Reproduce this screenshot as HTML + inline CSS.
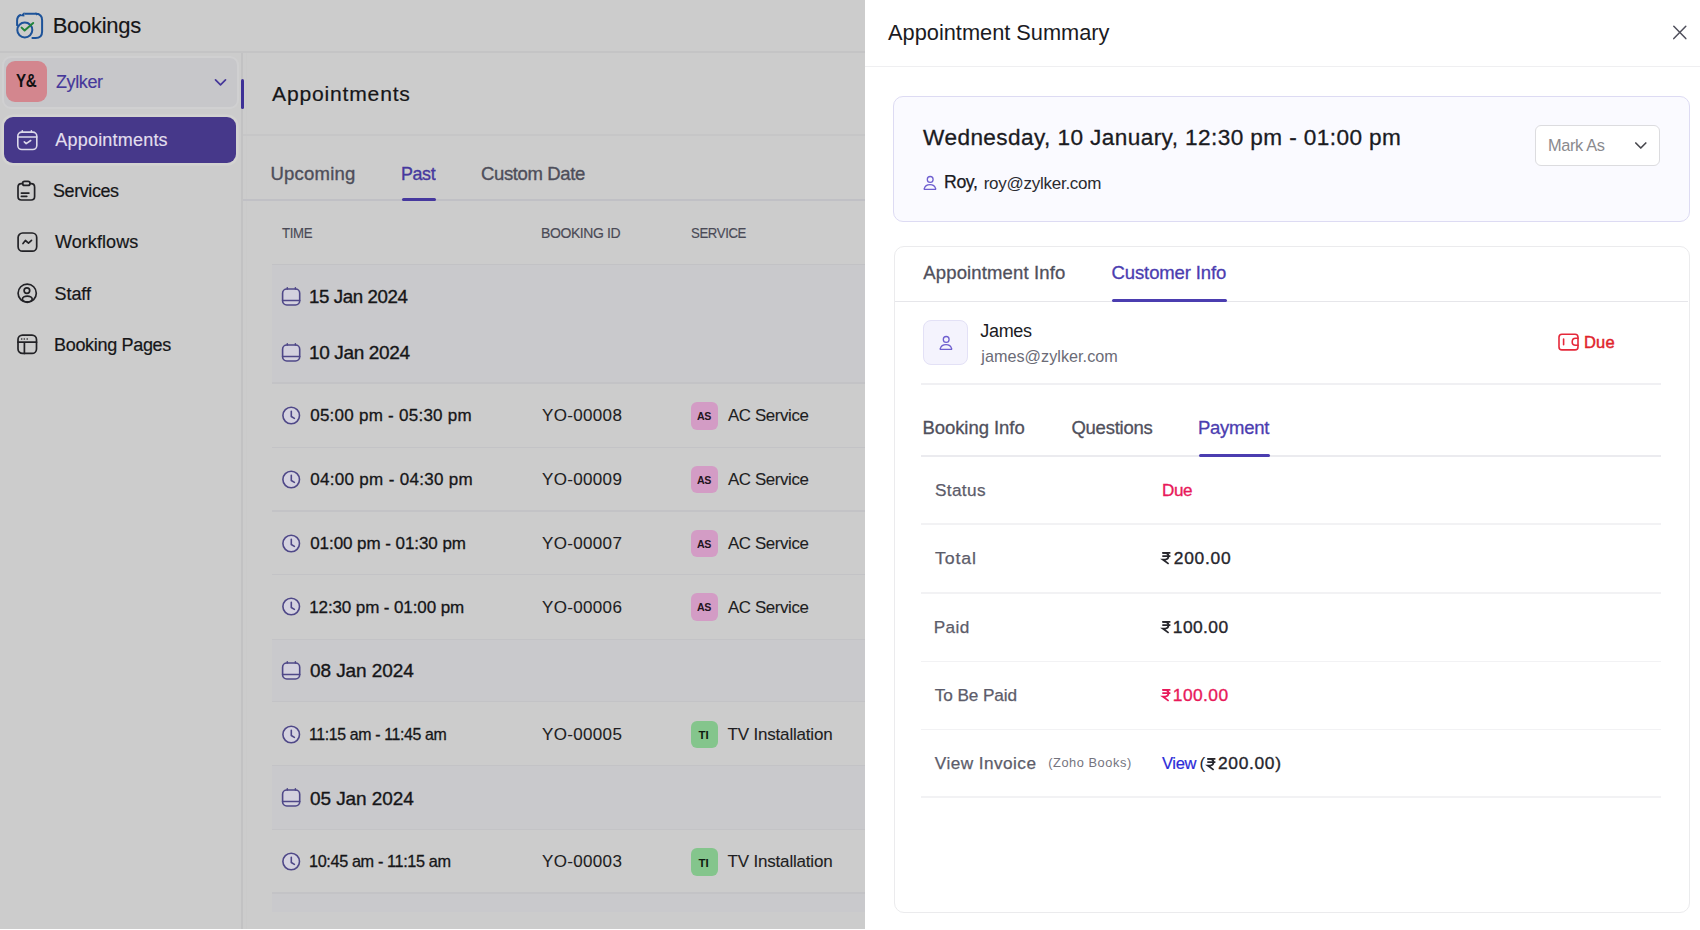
<!DOCTYPE html>
<html><head><meta charset="utf-8">
<style>
*{margin:0;padding:0;box-sizing:border-box}
html,body{width:1700px;height:930px;overflow:hidden;background:#fff;font-family:"Liberation Sans",sans-serif}
.a{position:absolute}
.t{position:absolute;line-height:1;white-space:pre}
.hl{position:absolute;height:1px}
svg{position:absolute;overflow:visible}
</style></head><body>
<!-- left dim area -->
<div class="a" style="left:0;top:0;width:865px;height:929px;background:#cccccc"></div>
<!-- header line -->
<div class="a" style="left:0;top:51px;width:865px;height:2px;background:#c4c4c5"></div>
<!-- sidebar border -->
<div class="a" style="left:241px;top:53px;width:2px;height:876px;background:#c2c2c3"></div>
<div class="a" style="left:246px;top:53px;width:1px;height:876px;background:#cacaca"></div>
<!-- zylker box -->
<div class="a" style="left:1.5px;top:56px;width:237px;height:52.5px;border-radius:9px;background:#c7c7ca;border:2.5px solid #d0d0d1"></div>
<div class="a" style="left:6px;top:61px;width:41px;height:41px;border-radius:9px;background:#d3868e"></div>
<svg style="left:213.5px;top:78px" width="13" height="9" viewBox="0 0 13 9"><path d="M1.5 1.8 L6.5 6.8 L11.5 1.8" fill="none" stroke="#46389a" stroke-width="1.7" stroke-linecap="round" stroke-linejoin="round"/></svg>
<!-- active item -->
<div class="a" style="left:3.5px;top:117px;width:232.5px;height:45.5px;border-radius:9px;background:#46388a;box-shadow:0 0 0 2.5px #d3d3d1"></div>
<!-- purple indicator -->
<div class="a" style="left:241px;top:79px;width:3px;height:30px;border-radius:2px;background:#3d3096"></div>
<!-- main header lines -->
<div class="a" style="left:243px;top:134px;width:622px;height:2px;background:#c6c6c7"></div>
<div class="a" style="left:243px;top:199px;width:622px;height:2px;background:#c0c0c5"></div>
<div class="a" style="left:401.5px;top:198px;width:34px;height:3px;border-radius:2px;background:#46389e"></div>
<!-- table -->
<div class="a" style="left:272px;top:264px;width:593px;height:1px;background:#c2c2c5"></div>
<div class="a" style="left:272px;top:265px;width:593px;height:118px;background:#c9c9cc"></div>
<div class="a" style="left:272px;top:640px;width:593px;height:61px;background:#c9c9cc"></div>
<div class="a" style="left:272px;top:766px;width:593px;height:63px;background:#c9c9cc"></div>
<div class="a" style="left:272px;top:894px;width:593px;height:18px;background:#c9c9cc"></div>
<div class="a" style="left:272px;top:382.45px;width:593px;height:1.5px;background:#c3c3c6"></div>
<div class="a" style="left:272px;top:446.65px;width:593px;height:1.5px;background:#c3c3c6"></div>
<div class="a" style="left:272px;top:510.05px;width:593px;height:1.5px;background:#c3c3c6"></div>
<div class="a" style="left:272px;top:573.85px;width:593px;height:1.5px;background:#c3c3c6"></div>
<div class="a" style="left:272px;top:638.55px;width:593px;height:1.5px;background:#c3c3c6"></div>
<div class="a" style="left:272px;top:700.95px;width:593px;height:1.5px;background:#c3c3c6"></div>
<div class="a" style="left:272px;top:764.75px;width:593px;height:1.5px;background:#c3c3c6"></div>
<div class="a" style="left:272px;top:828.65px;width:593px;height:1.5px;background:#c3c3c6"></div>
<div class="a" style="left:272px;top:892.45px;width:593px;height:1.5px;background:#c3c3c6"></div>
<svg style="left:10px;top:6px" width="40" height="40" viewBox="0 0 40 40"><g fill="none" stroke="#1d5399" stroke-width="2" stroke-linecap="round"><path d="M15.2 7.8 L25.6 7.8 Q32.1 7.8 32.1 14.3 L32.1 25.4 Q32.1 31.9 25.6 31.9 L22.4 31.9"/><path d="M7.1 19.2 L7.1 14.6 Q7.1 10.6 10.4 9"/><circle cx="14.8" cy="24" r="7.5"/></g><path d="M10 10 L14.4 5.9 L14.4 10.4 Z" fill="#1d5399"/><path d="M25.4 6.4 L29.6 7.6 L26.4 9.6 Z" fill="#1d5399"/><path d="M11.6 21.6 L14.6 24.5 L23.2 17" fill="none" stroke="#22843a" stroke-width="2" stroke-linecap="round" stroke-linejoin="round"/></svg>
<svg style="left:12px;top:126px" width="30" height="30" viewBox="0 0 30 30"><g fill="none" stroke="#dcd9ea" stroke-width="1.6" stroke-linecap="round" stroke-linejoin="round"><rect x="5.8" y="6.1" width="19" height="17.4" rx="4"/><path d="M5.8 11 L24.8 11"/><path d="M10.3 4.8 L10.3 6.2 M19.4 4.8 L19.4 6.2"/><path d="M12.3 15.8 L14.2 17.6 L18.7 14.5"/></g></svg>
<svg style="left:12px;top:176px" width="30" height="30" viewBox="0 0 30 30"><g fill="none" stroke="#222226" stroke-width="1.7" stroke-linecap="round" stroke-linejoin="round"><path d="M10.6 7.7 L9.5 7.7 Q6 7.7 6 11.2 L6 20.5 Q6 24 9.5 24 L19.1 24 Q22.6 24 22.6 20.5 L22.6 11.2 Q22.6 7.7 19.1 7.7 L18 7.7"/><rect x="10.6" y="5.3" width="7.4" height="4.1" rx="2"/><path d="M9.4 17.1 L16.9 17.1 M9.4 20.3 L14.8 20.3"/></g></svg>
<svg style="left:12px;top:227px" width="30" height="30" viewBox="0 0 30 30"><g fill="none" stroke="#222226" stroke-width="1.7" stroke-linecap="round" stroke-linejoin="round"><rect x="6.1" y="6" width="18.6" height="18.2" rx="4.5"/><path d="M11 16.5 L13.4 13.5 L16.5 16.1 L19.5 13.4"/></g></svg>
<svg style="left:12px;top:278px" width="30" height="30" viewBox="0 0 30 30"><g fill="none" stroke="#222226" stroke-width="1.7"><circle cx="15.2" cy="15.2" r="9.1"/><circle cx="14.9" cy="12.6" r="2.8"/><ellipse cx="15.3" cy="21" rx="4.9" ry="2.9"/></g></svg>
<svg style="left:12px;top:329px" width="30" height="30" viewBox="0 0 30 30"><g fill="none" stroke="#222226" stroke-width="1.7" stroke-linecap="round"><rect x="6" y="6.1" width="18.5" height="18.3" rx="4.5"/><path d="M6 13.2 L24.5 13.2 M12.4 13.2 L12.4 24.4"/></g><g fill="#222226"><circle cx="9.7" cy="10" r="0.8"/><circle cx="12.3" cy="10" r="0.8"/><circle cx="15.2" cy="10" r="0.8"/></g></svg>
<svg style="left:276px;top:282px" width="30" height="30" viewBox="0 0 30 30"><g fill="none" stroke="#4f4888" stroke-width="1.6" stroke-linecap="round"><rect x="6.6" y="7" width="17.1" height="16" rx="4.2" fill="#d3d1de"/><path d="M6.6 18.5 L23.7 18.5"/><path d="M11.3 5.9 L11.3 7 M19.4 5.9 L19.4 7"/></g></svg>
<svg style="left:276px;top:337.5px" width="30" height="30" viewBox="0 0 30 30"><g fill="none" stroke="#4f4888" stroke-width="1.6" stroke-linecap="round"><rect x="6.6" y="7" width="17.1" height="16" rx="4.2" fill="#d3d1de"/><path d="M6.6 18.5 L23.7 18.5"/><path d="M11.3 5.9 L11.3 7 M19.4 5.9 L19.4 7"/></g></svg>
<svg style="left:276px;top:655.5px" width="30" height="30" viewBox="0 0 30 30"><g fill="none" stroke="#4f4888" stroke-width="1.6" stroke-linecap="round"><rect x="6.6" y="7" width="17.1" height="16" rx="4.2" fill="#d3d1de"/><path d="M6.6 18.5 L23.7 18.5"/><path d="M11.3 5.9 L11.3 7 M19.4 5.9 L19.4 7"/></g></svg>
<svg style="left:276px;top:782.5px" width="30" height="30" viewBox="0 0 30 30"><g fill="none" stroke="#4f4888" stroke-width="1.6" stroke-linecap="round"><rect x="6.6" y="7" width="17.1" height="16" rx="4.2" fill="#d3d1de"/><path d="M6.6 18.5 L23.7 18.5"/><path d="M11.3 5.9 L11.3 7 M19.4 5.9 L19.4 7"/></g></svg>
<svg style="left:276px;top:401.0px" width="30" height="30" viewBox="0 0 30 30"><g fill="none" stroke="#4f4888" stroke-width="1.6" stroke-linecap="round" stroke-linejoin="round"><circle cx="15.2" cy="14.5" r="8.3" fill="#d5d3e0"/><path d="M15.3 10.3 L15.3 15.5 L18.4 17.4"/></g></svg>
<svg style="left:276px;top:464.8px" width="30" height="30" viewBox="0 0 30 30"><g fill="none" stroke="#4f4888" stroke-width="1.6" stroke-linecap="round" stroke-linejoin="round"><circle cx="15.2" cy="14.5" r="8.3" fill="#d5d3e0"/><path d="M15.3 10.3 L15.3 15.5 L18.4 17.4"/></g></svg>
<svg style="left:276px;top:528.5px" width="30" height="30" viewBox="0 0 30 30"><g fill="none" stroke="#4f4888" stroke-width="1.6" stroke-linecap="round" stroke-linejoin="round"><circle cx="15.2" cy="14.5" r="8.3" fill="#d5d3e0"/><path d="M15.3 10.3 L15.3 15.5 L18.4 17.4"/></g></svg>
<svg style="left:276px;top:592.3px" width="30" height="30" viewBox="0 0 30 30"><g fill="none" stroke="#4f4888" stroke-width="1.6" stroke-linecap="round" stroke-linejoin="round"><circle cx="15.2" cy="14.5" r="8.3" fill="#d5d3e0"/><path d="M15.3 10.3 L15.3 15.5 L18.4 17.4"/></g></svg>
<svg style="left:276px;top:719.5px" width="30" height="30" viewBox="0 0 30 30"><g fill="none" stroke="#4f4888" stroke-width="1.6" stroke-linecap="round" stroke-linejoin="round"><circle cx="15.2" cy="14.5" r="8.3" fill="#d5d3e0"/><path d="M15.3 10.3 L15.3 15.5 L18.4 17.4"/></g></svg>
<svg style="left:276px;top:847.0px" width="30" height="30" viewBox="0 0 30 30"><g fill="none" stroke="#4f4888" stroke-width="1.6" stroke-linecap="round" stroke-linejoin="round"><circle cx="15.2" cy="14.5" r="8.3" fill="#d5d3e0"/><path d="M15.3 10.3 L15.3 15.5 L18.4 17.4"/></g></svg>
<div class="a" style="left:690.5px;top:402px;width:27.5px;height:27.5px;border-radius:6px;background:#d39cc5"></div>
<div class="a" style="left:690.5px;top:465.8px;width:27.5px;height:27.5px;border-radius:6px;background:#d39cc5"></div>
<div class="a" style="left:690.5px;top:529.5px;width:27.5px;height:27.5px;border-radius:6px;background:#d39cc5"></div>
<div class="a" style="left:690.5px;top:593.3px;width:27.5px;height:27.5px;border-radius:6px;background:#d39cc5"></div>
<div class="a" style="left:690.5px;top:720.5px;width:27.5px;height:27.5px;border-radius:6px;background:#84c58c"></div>
<div class="a" style="left:690.5px;top:848px;width:27.5px;height:27.5px;border-radius:6px;background:#84c58c"></div>
<!-- right panel -->
<div class="a" style="left:865px;top:65.5px;width:835px;height:1.5px;background:#efeff1"></div>
<svg style="left:1672px;top:25px" width="16" height="16" viewBox="0 0 16 16"><path d="M1.8 1.2 L13.8 13.6 M13.8 1.2 L1.8 13.6" stroke="#50505c" stroke-width="1.5" stroke-linecap="round"/></svg>
<div class="a" style="left:893px;top:95.5px;width:797px;height:126.5px;border-radius:10px;background:#fafaff;border:1.5px solid #dddbf3"></div>
<div class="a" style="left:1535px;top:125px;width:125px;height:41px;border-radius:6px;background:#fff;border:1.5px solid #dcdcdf"></div>
<svg style="left:1634px;top:141px" width="14" height="10" viewBox="0 0 14 10"><path d="M1.8 2 L6.8 7 L11.8 2" fill="none" stroke="#48484e" stroke-width="1.7" stroke-linecap="round" stroke-linejoin="round"/></svg>
<div class="a" style="left:893.5px;top:245.5px;width:796px;height:667.5px;border-radius:10px;background:#fff;border:1.5px solid #ebebed"></div>
<div class="a" style="left:895px;top:300.5px;width:793px;height:1.5px;background:#e6e6ea"></div>
<div class="a" style="left:1111.5px;top:299px;width:115px;height:3px;border-radius:2px;background:#4b3db0"></div>
<div class="a" style="left:923px;top:320px;width:45px;height:45px;border-radius:8px;background:#f4f3fd;border:1.5px solid #e3e1f6"></div>
<div class="a" style="left:921px;top:383px;width:740px;height:1.5px;background:#f0f0f3"></div>
<div class="a" style="left:921px;top:455px;width:740px;height:1.5px;background:#ebebef"></div>
<div class="a" style="left:1199px;top:453.5px;width:70.5px;height:3px;border-radius:2px;background:#4b3db0"></div>
<div class="a" style="left:921px;top:523px;width:740px;height:1.5px;background:#f2f2f4"></div>
<div class="a" style="left:921px;top:592px;width:740px;height:1.5px;background:#f2f2f4"></div>
<div class="a" style="left:921px;top:660.5px;width:740px;height:1.5px;background:#f2f2f4"></div>
<div class="a" style="left:921px;top:728.5px;width:740px;height:1.5px;background:#f2f2f4"></div>
<div class="a" style="left:921px;top:796px;width:740px;height:1.5px;background:#f2f2f4"></div>
<svg style="left:918px;top:170px" width="25" height="25" viewBox="0 0 25 25"><g fill="none" stroke="#6e5ecf" stroke-width="1.3" stroke-linecap="round" transform="scale(1.0)"><circle cx="12.2" cy="9.4" r="2.9"/><path d="M6.6 19.3 L17.3 19.3 Q17.9 19.3 17.6 18.6 Q16.6 14.6 12 14.6 Q7.3 14.6 6.3 18.6 Q6 19.3 6.6 19.3 Z"/></g></svg>
<svg style="left:933.5px;top:330px" width="25" height="25" viewBox="0 0 25 25"><g fill="none" stroke="#6e5ecf" stroke-width="1.3" stroke-linecap="round" transform="scale(1.0)"><circle cx="12.2" cy="9.4" r="2.9"/><path d="M6.6 19.3 L17.3 19.3 Q17.9 19.3 17.6 18.6 Q16.6 14.6 12 14.6 Q7.3 14.6 6.3 18.6 Q6 19.3 6.6 19.3 Z"/></g></svg>
<svg style="left:1553px;top:328px" width="30" height="30" viewBox="0 0 30 30"><g fill="none" stroke="#e5283a" stroke-width="1.6" stroke-linecap="round"><rect x="6" y="6.3" width="19" height="15.6" rx="3"/><path d="M10.6 11 L10.6 16.8"/><path d="M25 10.3 L22.6 10.3 Q19.2 10.3 19.2 13.9 Q19.2 17.2 22.6 17.2 L25 17.2"/></g></svg>
<svg style="left:1161.5px;top:552.2px" width="8.8" height="12" viewBox="0 0 9 12"><g fill="none" stroke="#26262c" stroke-width="1.8" stroke-linejoin="miter"><path d="M0.3 0.8 L8.6 0.8 M0.3 4.2 L8.6 4.2"/><path d="M0.6 0.8 L3.3 0.8 Q6.6 0.8 6.6 4.3 Q6.6 7.6 3.3 7.6 L0.8 7.6 L6.8 12"/></g></svg>
<svg style="left:1161.5px;top:621.1px" width="8.8" height="12" viewBox="0 0 9 12"><g fill="none" stroke="#26262c" stroke-width="1.8" stroke-linejoin="miter"><path d="M0.3 0.8 L8.6 0.8 M0.3 4.2 L8.6 4.2"/><path d="M0.6 0.8 L3.3 0.8 Q6.6 0.8 6.6 4.3 Q6.6 7.6 3.3 7.6 L0.8 7.6 L6.8 12"/></g></svg>
<svg style="left:1161.5px;top:689.2px" width="8.8" height="12" viewBox="0 0 9 12"><g fill="none" stroke="#e8195a" stroke-width="1.8" stroke-linejoin="miter"><path d="M0.3 0.8 L8.6 0.8 M0.3 4.2 L8.6 4.2"/><path d="M0.6 0.8 L3.3 0.8 Q6.6 0.8 6.6 4.3 Q6.6 7.6 3.3 7.6 L0.8 7.6 L6.8 12"/></g></svg>
<svg style="left:1207px;top:757.6px" width="8.8" height="12" viewBox="0 0 9 12"><g fill="none" stroke="#26262c" stroke-width="1.8" stroke-linejoin="miter"><path d="M0.3 0.8 L8.6 0.8 M0.3 4.2 L8.6 4.2"/><path d="M0.6 0.8 L3.3 0.8 Q6.6 0.8 6.6 4.3 Q6.6 7.6 3.3 7.6 L0.8 7.6 L6.8 12"/></g></svg>
<div class="t" style="left:52.70px;top:14.68px;font-size:22px;letter-spacing:-0.286px;color:#161618;font-weight:400;-webkit-text-stroke:0.15px #161618;">Bookings</div>
<div class="t" style="left:56.00px;top:73.06px;font-size:18px;letter-spacing:-0.400px;color:#46389a;font-weight:400;-webkit-text-stroke:0.15px #46389a;">Zylker</div>
<div class="t" style="left:15.90px;top:73.29px;font-size:17.5px;letter-spacing:-0.400px;color:#111;font-weight:700;transform:scaleX(0.8652);transform-origin:0 0;">Y&amp;</div>
<div class="t" style="left:55.30px;top:131.26px;font-size:18px;letter-spacing:0.203px;color:#e2dfee;font-weight:400;-webkit-text-stroke:0.15px #e2dfee;">Appointments</div>
<div class="t" style="left:53.00px;top:182.26px;font-size:18px;letter-spacing:-0.400px;color:#161618;font-weight:400;transform:scaleX(0.9967);transform-origin:0 0;-webkit-text-stroke:0.2px #161618;">Services</div>
<div class="t" style="left:55.00px;top:233.46px;font-size:18px;letter-spacing:0.065px;color:#161618;font-weight:400;-webkit-text-stroke:0.2px #161618;">Workflows</div>
<div class="t" style="left:54.50px;top:284.76px;font-size:18px;letter-spacing:-0.048px;color:#161618;font-weight:400;-webkit-text-stroke:0.2px #161618;">Staff</div>
<div class="t" style="left:54.00px;top:336.06px;font-size:18px;letter-spacing:-0.316px;color:#161618;font-weight:400;-webkit-text-stroke:0.2px #161618;">Booking Pages</div>
<div class="t" style="left:271.50px;top:83.69px;font-size:20.8px;letter-spacing:0.800px;color:#161618;font-weight:400;transform:scaleX(1.0142);transform-origin:0 0;-webkit-text-stroke:0.2px #161618;">Appointments</div>
<div class="t" style="left:270.50px;top:164.64px;font-size:18.5px;letter-spacing:0.215px;color:#4e4e5a;font-weight:400;-webkit-text-stroke:0.35px #4e4e5a;">Upcoming</div>
<div class="t" style="left:400.53px;top:164.64px;font-size:18.5px;letter-spacing:-0.400px;color:#46389e;font-weight:400;transform:scaleX(0.9660);transform-origin:0 0;-webkit-text-stroke:0.35px #46389e;">Past</div>
<div class="t" style="left:481.00px;top:164.64px;font-size:18.5px;letter-spacing:-0.367px;color:#4e4e5a;font-weight:400;-webkit-text-stroke:0.35px #4e4e5a;">Custom Date</div>
<div class="t" style="left:282.00px;top:226.06px;font-size:14.1px;letter-spacing:-0.400px;color:#4a4a56;font-weight:400;transform:scaleX(0.9387);transform-origin:0 0;-webkit-text-stroke:0.15px #4a4a56;">TIME</div>
<div class="t" style="left:540.51px;top:226.06px;font-size:14.1px;letter-spacing:-0.400px;color:#4a4a56;font-weight:400;transform:scaleX(0.9935);transform-origin:0 0;-webkit-text-stroke:0.15px #4a4a56;">BOOKING ID</div>
<div class="t" style="left:690.50px;top:226.06px;font-size:14.1px;letter-spacing:-0.400px;color:#4a4a56;font-weight:400;transform:scaleX(0.9351);transform-origin:0 0;-webkit-text-stroke:0.15px #4a4a56;">SERVICE</div>
<div class="t" style="left:309.02px;top:287.32px;font-size:19px;letter-spacing:-0.400px;color:#161618;font-weight:400;transform:scaleX(0.9837);transform-origin:0 0;-webkit-text-stroke:0.35px #161618;">15 Jan 2024</div>
<div class="t" style="left:309.00px;top:342.92px;font-size:19px;letter-spacing:-0.353px;color:#161618;font-weight:400;-webkit-text-stroke:0.35px #161618;">10 Jan 2024</div>
<div class="t" style="left:310.00px;top:661.42px;font-size:19px;letter-spacing:-0.083px;color:#161618;font-weight:400;-webkit-text-stroke:0.35px #161618;">08 Jan 2024</div>
<div class="t" style="left:310.00px;top:788.62px;font-size:19px;letter-spacing:-0.083px;color:#161618;font-weight:400;-webkit-text-stroke:0.35px #161618;">05 Jan 2024</div>
<div class="t" style="left:310.20px;top:407.41px;font-size:17px;letter-spacing:0.255px;color:#161618;font-weight:400;-webkit-text-stroke:0.3px #161618;">05:00 pm - 05:30 pm</div>
<div class="t" style="left:542.00px;top:407.41px;font-size:17px;letter-spacing:0.337px;color:#1e1e22;font-weight:400;-webkit-text-stroke:0.1px #1e1e22;">YO-00008</div>
<div class="t" style="left:727.60px;top:407.41px;font-size:17px;letter-spacing:-0.400px;color:#1e1e22;font-weight:400;transform:scaleX(0.9930);transform-origin:0 0;-webkit-text-stroke:0.1px #1e1e22;">AC Service</div>
<div class="t" style="left:696.70px;top:411.03px;font-size:11.3px;letter-spacing:-0.400px;color:#1e1420;font-weight:700;transform:scaleX(0.9392);transform-origin:0 0;">AS</div>
<div class="t" style="left:310.20px;top:471.21px;font-size:17px;letter-spacing:0.316px;color:#161618;font-weight:400;-webkit-text-stroke:0.3px #161618;">04:00 pm - 04:30 pm</div>
<div class="t" style="left:542.00px;top:471.21px;font-size:17px;letter-spacing:0.337px;color:#1e1e22;font-weight:400;-webkit-text-stroke:0.1px #1e1e22;">YO-00009</div>
<div class="t" style="left:727.60px;top:471.21px;font-size:17px;letter-spacing:-0.400px;color:#1e1e22;font-weight:400;transform:scaleX(0.9930);transform-origin:0 0;-webkit-text-stroke:0.1px #1e1e22;">AC Service</div>
<div class="t" style="left:696.70px;top:474.83px;font-size:11.3px;letter-spacing:-0.400px;color:#1e1420;font-weight:700;transform:scaleX(0.9392);transform-origin:0 0;">AS</div>
<div class="t" style="left:310.20px;top:534.91px;font-size:17px;letter-spacing:-0.062px;color:#161618;font-weight:400;-webkit-text-stroke:0.3px #161618;">01:00 pm - 01:30 pm</div>
<div class="t" style="left:542.00px;top:534.91px;font-size:17px;letter-spacing:0.337px;color:#1e1e22;font-weight:400;-webkit-text-stroke:0.1px #1e1e22;">YO-00007</div>
<div class="t" style="left:727.60px;top:534.91px;font-size:17px;letter-spacing:-0.400px;color:#1e1e22;font-weight:400;transform:scaleX(0.9930);transform-origin:0 0;-webkit-text-stroke:0.1px #1e1e22;">AC Service</div>
<div class="t" style="left:696.70px;top:538.53px;font-size:11.3px;letter-spacing:-0.400px;color:#1e1420;font-weight:700;transform:scaleX(0.9392);transform-origin:0 0;">AS</div>
<div class="t" style="left:309.20px;top:598.71px;font-size:17px;letter-spacing:-0.106px;color:#161618;font-weight:400;-webkit-text-stroke:0.3px #161618;">12:30 pm - 01:00 pm</div>
<div class="t" style="left:542.00px;top:598.71px;font-size:17px;letter-spacing:0.337px;color:#1e1e22;font-weight:400;-webkit-text-stroke:0.1px #1e1e22;">YO-00006</div>
<div class="t" style="left:727.60px;top:598.71px;font-size:17px;letter-spacing:-0.400px;color:#1e1e22;font-weight:400;transform:scaleX(0.9930);transform-origin:0 0;-webkit-text-stroke:0.1px #1e1e22;">AC Service</div>
<div class="t" style="left:696.70px;top:602.33px;font-size:11.3px;letter-spacing:-0.400px;color:#1e1420;font-weight:700;transform:scaleX(0.9392);transform-origin:0 0;">AS</div>
<div class="t" style="left:309.26px;top:725.61px;font-size:17px;letter-spacing:-0.400px;color:#161618;font-weight:400;transform:scaleX(0.9357);transform-origin:0 0;-webkit-text-stroke:0.3px #161618;">11:15 am - 11:45 am</div>
<div class="t" style="left:542.00px;top:725.61px;font-size:17px;letter-spacing:0.337px;color:#1e1e22;font-weight:400;-webkit-text-stroke:0.1px #1e1e22;">YO-00005</div>
<div class="t" style="left:727.60px;top:725.61px;font-size:17px;letter-spacing:-0.190px;color:#1e1e22;font-weight:400;-webkit-text-stroke:0.1px #1e1e22;">TV Installation</div>
<div class="t" style="left:698.60px;top:729.77px;font-size:11.5px;letter-spacing:-0.125px;color:#0e1a10;font-weight:700;">TI</div>
<div class="t" style="left:309.24px;top:853.41px;font-size:17px;letter-spacing:-0.400px;color:#161618;font-weight:400;transform:scaleX(0.9569);transform-origin:0 0;-webkit-text-stroke:0.3px #161618;">10:45 am - 11:15 am</div>
<div class="t" style="left:542.00px;top:853.41px;font-size:17px;letter-spacing:0.337px;color:#1e1e22;font-weight:400;-webkit-text-stroke:0.1px #1e1e22;">YO-00003</div>
<div class="t" style="left:727.60px;top:853.41px;font-size:17px;letter-spacing:-0.190px;color:#1e1e22;font-weight:400;-webkit-text-stroke:0.1px #1e1e22;">TV Installation</div>
<div class="t" style="left:698.60px;top:857.57px;font-size:11.5px;letter-spacing:-0.125px;color:#0e1a10;font-weight:700;">TI</div>
<div class="t" style="left:888.10px;top:21.55px;font-size:21.8px;letter-spacing:-0.016px;color:#1b1b1f;font-weight:400;">Appointment Summary</div>
<div class="t" style="left:923.10px;top:126.97px;font-size:22.6px;letter-spacing:0.412px;color:#1b1b1f;font-weight:400;-webkit-text-stroke:0.3px #1b1b1f;">Wednesday, 10 January, 12:30 pm - 01:00 pm</div>
<div class="t" style="left:943.50px;top:174.23px;font-size:17.8px;letter-spacing:-0.400px;color:#1b1b1f;font-weight:400;transform:scaleX(0.9969);transform-origin:0 0;-webkit-text-stroke:0.25px #1b1b1f;">Roy,</div>
<div class="t" style="left:983.70px;top:174.91px;font-size:17px;letter-spacing:-0.262px;color:#2a2a30;font-weight:400;">roy@zylker.com</div>
<div class="t" style="left:1547.56px;top:137.37px;font-size:17.4px;letter-spacing:-0.400px;color:#8a8a8e;font-weight:400;transform:scaleX(0.9411);transform-origin:0 0;">Mark As</div>
<div class="t" style="left:923.30px;top:264.04px;font-size:18.5px;letter-spacing:0.141px;color:#50505c;font-weight:400;-webkit-text-stroke:0.3px #50505c;">Appointment Info</div>
<div class="t" style="left:1111.60px;top:264.04px;font-size:18.5px;letter-spacing:-0.125px;color:#4b3db0;font-weight:400;-webkit-text-stroke:0.3px #4b3db0;">Customer Info</div>
<div class="t" style="left:980.30px;top:322.06px;font-size:18px;letter-spacing:-0.329px;color:#1b1b1f;font-weight:400;">James</div>
<div class="t" style="left:981.30px;top:348.09px;font-size:16.2px;letter-spacing:0.028px;color:#6b6b76;font-weight:400;">james@zylker.com</div>
<div class="t" style="left:1584.00px;top:334.33px;font-size:16.5px;letter-spacing:0.154px;color:#e0242c;font-weight:400;-webkit-text-stroke:0.45px #e0242c;">Due</div>
<div class="t" style="left:922.40px;top:419.34px;font-size:18.5px;letter-spacing:-0.051px;color:#50505c;font-weight:400;-webkit-text-stroke:0.3px #50505c;">Booking Info</div>
<div class="t" style="left:1071.40px;top:419.34px;font-size:18.5px;letter-spacing:-0.243px;color:#50505c;font-weight:400;-webkit-text-stroke:0.3px #50505c;">Questions</div>
<div class="t" style="left:1198.00px;top:419.34px;font-size:18.5px;letter-spacing:-0.278px;color:#4b3db0;font-weight:400;-webkit-text-stroke:0.3px #4b3db0;">Payment</div>
<div class="t" style="left:934.90px;top:481.74px;font-size:17.2px;letter-spacing:0.374px;color:#5c5c6a;font-weight:400;-webkit-text-stroke:0.25px #5c5c6a;">Status</div>
<div class="t" style="left:1161.61px;top:481.74px;font-size:17.2px;letter-spacing:-0.400px;color:#e8195a;font-weight:400;transform:scaleX(0.9941);transform-origin:0 0;-webkit-text-stroke:0.35px #e8195a;">Due</div>
<div class="t" style="left:934.60px;top:550.14px;font-size:17.2px;letter-spacing:0.800px;color:#5c5c6a;font-weight:400;transform:scaleX(1.0340);transform-origin:0 0;-webkit-text-stroke:0.25px #5c5c6a;">Total</div>
<div class="t" style="left:1173.80px;top:549.87px;font-size:17.4px;letter-spacing:0.736px;color:#26262c;font-weight:400;-webkit-text-stroke:0.35px #26262c;">200.00</div>
<div class="t" style="left:933.80px;top:618.54px;font-size:17.2px;letter-spacing:0.353px;color:#5c5c6a;font-weight:400;-webkit-text-stroke:0.25px #5c5c6a;">Paid</div>
<div class="t" style="left:1172.80px;top:618.57px;font-size:17.4px;letter-spacing:0.416px;color:#26262c;font-weight:400;-webkit-text-stroke:0.35px #26262c;">100.00</div>
<div class="t" style="left:934.80px;top:686.84px;font-size:17.2px;letter-spacing:-0.107px;color:#5c5c6a;font-weight:400;-webkit-text-stroke:0.25px #5c5c6a;">To Be Paid</div>
<div class="t" style="left:1172.80px;top:686.67px;font-size:17.4px;letter-spacing:0.416px;color:#e8195a;font-weight:400;-webkit-text-stroke:0.35px #e8195a;">100.00</div>
<div class="t" style="left:934.80px;top:755.24px;font-size:17.2px;letter-spacing:0.453px;color:#5c5c6a;font-weight:400;-webkit-text-stroke:0.25px #5c5c6a;">View Invoice</div>
<div class="t" style="left:1048.20px;top:757.26px;font-size:12.8px;letter-spacing:0.559px;color:#74747e;font-weight:400;">(Zoho Books)</div>
<div class="t" style="left:1161.90px;top:755.24px;font-size:17.2px;letter-spacing:-0.400px;color:#2b2bd8;font-weight:400;transform:scaleX(0.9634);transform-origin:0 0;-webkit-text-stroke:0.2px #2b2bd8;">View</div>
<div class="t" style="left:1199.40px;top:755.24px;font-size:17.2px;letter-spacing:0.000px;color:#26262c;font-weight:400;">(</div>
<div class="t" style="left:1218.00px;top:755.07px;font-size:17.4px;letter-spacing:0.668px;color:#26262c;font-weight:400;-webkit-text-stroke:0.35px #26262c;">200.00)</div>
</body></html>
